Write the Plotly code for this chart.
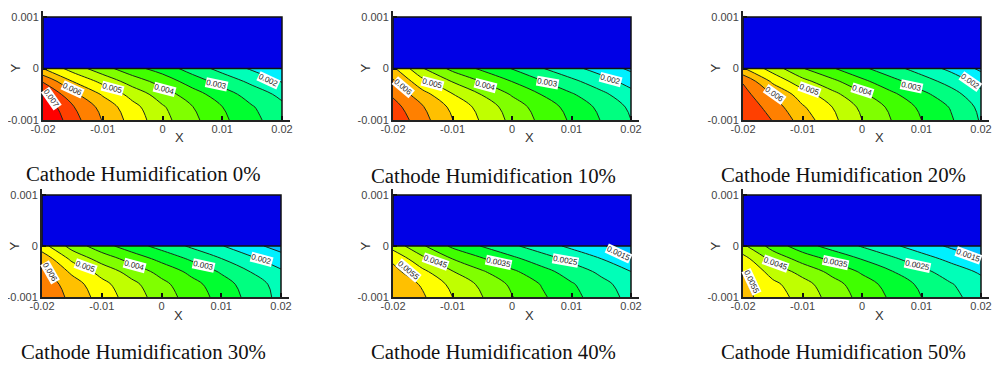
import plotly.graph_objects as go

W, H = 1000, 369
x_grid = [-0.02, -0.015, -0.01, -0.005, 0, 0.005, 0.01, 0.015, 0.02]
y_grid = [-0.001, -0.00075, -0.0005, -0.00025, 0]
x_ticks = [-0.02, -0.01, 0, 0.01, 0.02]
x_tick_labels = ["-0.02", "-0.01", "0", "0.01", "0.02"]
y_ticks = [-0.001, 0, 0.001]
y_tick_labels = ["-0.001", "0", "0.001"]

captions = ["Cathode Humidification 0%", "Cathode Humidification 10%", "Cathode Humidification 20%",
            "Cathode Humidification 30%", "Cathode Humidification 40%", "Cathode Humidification 50%"]

z_0 = [
    [.00760, .00670, .00597, .00530, .00467, .00413, .00361, .00314, .00272],
    [.00740, .00655, .00583, .00517, .00456, .00402, .00351, .00304, .00262],
    [.00710, .00612, .00544, .00481, .00425, .00372, .00323, .00278, .00237],
    [.00645, .00549, .00485, .00427, .00379, .00327, .00280, .00238, .00197],
    [.00550, .00478, .00420, .00367, .00328, .00277, .00233, .00193, .00155],
]
z_10 = [
    [.00690, .00617, .00551, .00493, .00437, .00388, .00343, .00298, .00250],
    [.00670, .00604, .00538, .00481, .00426, .00377, .00333, .00288, .00241],
    [.00642, .00568, .00502, .00447, .00395, .00348, .00305, .00262, .00217],
    [.00608, .00514, .00447, .00397, .00349, .00303, .00262, .00222, .00180],
    [.00560, .00453, .00386, .00340, .00298, .00253, .00215, .00178, .00140],
]
z_20 = [
    [.00695, .00648, .00577, .00513, .00450, .00399, .00350, .00305, .00245],
    [.00690, .00626, .00556, .00500, .00439, .00389, .00340, .00296, .00237],
    [.00670, .00596, .00525, .00466, .00408, .00360, .00313, .00270, .00214],
    [.00645, .00540, .00467, .00413, .00362, .00316, .00273, .00231, .00180],
    [.00555, .00477, .00403, .00355, .00310, .00268, .00228, .00187, .00140],
]
z_30 = [
    [.00645, .00586, .00529, .00476, .00426, .00378, .00333, .00283, .00235],
    [.00635, .00574, .00516, .00464, .00414, .00367, .00323, .00274, .00231],
    [.00612, .00540, .00481, .00430, .00383, .00337, .00294, .00248, .00207],
    [.00585, .00488, .00429, .00380, .00335, .00292, .00251, .00209, .00171],
    [.00520, .00431, .00370, .00323, .00282, .00242, .00203, .00165, .00130],
]
z_40 = [
    [.00590, .00556, .00500, .00451, .00402, .00358, .00315, .00275, .00235],
    [.00585, .00544, .00487, .00439, .00391, .00347, .00305, .00265, .00226],
    [.00565, .00511, .00452, .00405, .00359, .00318, .00277, .00239, .00200],
    [.00540, .00462, .00399, .00354, .00312, .00273, .00236, .00200, .00161],
    [.00480, .00406, .00340, .00297, .00259, .00223, .00189, .00156, .00118],
]
z_50 = [
    [.00565, .00523, .00482, .00431, .00384, .00342, .00300, .00263, .00228],
    [.00558, .00512, .00469, .00419, .00373, .00331, .00290, .00253, .00219],
    [.00550, .00480, .00433, .00386, .00343, .00302, .00263, .00226, .00192],
    [.00520, .00433, .00380, .00337, .00297, .00259, .00221, .00186, .00152],
    [.00460, .00380, .00321, .00281, .00246, .00210, .00175, .00141, .00108],
]
panels_z = [z_0, z_10, z_20, z_30, z_40, z_50]

label_text = [
    ["0.007", "0.006", "0.005", "0.004", "0.003", "0.002"],
    ["0.006", "0.005", "0.004", "0.003", "0.002"],
    ["0.006", "0.005", "0.004", "0.003", "0.002"],
    ["0.006", "0.005", "0.004", "0.003", "0.002"],
    ["0.0055", "0.0045", "0.0035", "0.0025", "0.0015"],
    ["0.0055", "0.0045", "0.0035", "0.0025", "0.0015"],
]
label_x = [
    [-.0186, -.0150, -.0083, .0004, .0091, .0178],
    [-.0182, -.0134, -.0045, .0059, .0165],
    [-.0147, -.0089, 0, .0084, .0182],
    [-.0186, -.0128, -.0045, .0070, .0168],
    [-.0174, -.0129, -.0022, .0090, .0179],
    [-.0185, -.0146, -.0045, .0094, .0179],
]
label_y = [
    [-.00058, -.00041, -.00039, -.00041, -.00032, -.00023],
    [-.00036, -.00029, -.00033, -.00028, -.00022],
    [-.00051, -.00041, -.00042, -.00035, -.00025],
    [-.00051, -.00041, -.00039, -.00039, -.00027],
    [-.00048, -.00031, -.00033, -.00028, -.00015],
    [-.00071, -.00035, -.00033, -.00038, -.00018],
]
label_angle = [
    [55, 25, 15, 15, 12, 25],
    [40, 15, 15, 10, 15],
    [35, 20, 18, 12, 35],
    [60, 20, 15, 12, 15],
    [40, 20, 12, 10, 25],
    [65, 20, 12, 12, 20],
]

band_colors = ["#00c0ff", "#00f0ff", "#00ffb8", "#00ff80", "#00ff30", "#40ff00", "#80ff00",
               "#c0ff00", "#ffff00", "#ffc000", "#ff8000", "#ff4000", "#ff0000"]

X_MIN, X_MAX, Y_MIN, Y_MID, Y_MAX = -0.02, 0.02, -0.001, 0, 0.001
Z_MIN, Z_MAX = 0.001, 0.0075

# the page adds an 8 px body margin round the figure
PAGE = 8
# layout, in page pixels: left, right, top, middle, bottom, caption centre x, caption centre y
geom = [
    (43, 282, 17, 68.5, 120, 143, 173),
    (393, 631, 17, 68.5, 120, 493, 175),
    (743, 981, 17, 68.5, 120, 843, 174),
    (42, 281, 195, 246.5, 297, 143, 351),
    (393, 631, 195, 246.5, 297, 493, 351),
    (743, 981, 195, 246.5, 297, 843, 351),
]

n = len(band_colors)
colorscale = []
for j, c in enumerate(band_colors):
    colorscale += [[j / n, c], [(j + 1) / n, c]]

fig = go.Figure()
ann = []
layout_axes = {}
tick_font = dict(family="Liberation Sans", size=11, color="#444")
title_font = dict(family="Liberation Sans", size=13, color="#333")
for i, (l, r, t, m, b, cx, cy) in enumerate(geom):
    l, r, cx = l - PAGE, r - PAGE, cx - PAGE
    t, m, b, cy = t - PAGE, m - PAGE, b - PAGE, cy - PAGE
    xa = "x" if i == 0 else f"x{i+1}"
    ya = "y" if i == 0 else f"y{i+1}"
    xname = "xaxis" if i == 0 else f"xaxis{i+1}"
    yname = "yaxis" if i == 0 else f"yaxis{i+1}"
    xscale = (X_MAX - X_MIN) / (r - l)
    yscale = (Y_MAX - Y_MIN) / (b - t)
    ext_r, ext_t = 8, 6
    layout_axes[xname] = dict(
        domain=[l / W, (r + ext_r) / W], range=[X_MIN, X_MAX + ext_r * xscale], automargin=False,
        anchor=ya, tickmode="array", tickvals=x_ticks, ticktext=x_tick_labels,
        ticks="inside", ticklen=4, tickwidth=1.5, tickcolor="#111", showgrid=False, zeroline=False,
        showline=True, linecolor="#222", linewidth=2, tickfont=tick_font, ticklabelstandoff=-2,
    )
    layout_axes[yname] = dict(
        domain=[1 - b / H, 1 - max(t - ext_t, 0) / H], range=[Y_MIN, Y_MAX + (t - max(t - ext_t, 0)) * yscale],
        automargin=False,
        anchor=xa, tickmode="array", tickvals=y_ticks, ticktext=y_tick_labels,
        ticks="inside", ticklen=4, tickwidth=1.5, tickcolor="#111", showgrid=False, zeroline=False,
        showline=True, linecolor="#222", linewidth=2, tickfont=tick_font,
    )
    fig.add_trace(go.Contour(
        x=x_grid, y=y_grid, z=panels_z[i], xaxis=xa, yaxis=ya, showscale=False,
        colorscale=colorscale, zauto=False, zmin=Z_MIN, zmax=Z_MAX, autocontour=False,
        contours=dict(start=0.0015, end=0.007, size=0.0005, coloring="fill"),
        line=dict(color="#1a2a1a", width=1, smoothing=1.0), hoverinfo="skip",
    ))
    fig.add_trace(go.Heatmap(
        x=[X_MIN, X_MAX], y=[Y_MID, Y_MAX], z=[[1]], xaxis=xa, yaxis=ya, showscale=False,
        colorscale=[[0, "#0000e6"], [1, "#0000e6"]], hoverinfo="skip",
    ))
    fig.add_trace(go.Scatter(
        x=[X_MIN, X_MAX, X_MAX, X_MIN, X_MIN, X_MAX, X_MAX], y=[Y_MID, Y_MID, Y_MAX, Y_MAX, Y_MID, Y_MID, Y_MIN],
        xaxis=xa, yaxis=ya, mode="lines", line=dict(color="#111", width=1.5),
        showlegend=False, hoverinfo="skip",
    ))
    for txt, lx, ly, ang in zip(label_text[i], label_x[i], label_y[i], label_angle[i]):
        ann.append(dict(
            x=lx, y=ly, xref=xa, yref=ya, text=txt, textangle=ang, showarrow=False,
            font=dict(family="Liberation Sans", size=8, color="#222"),
            bgcolor="white", borderpad=0,
        ))
    ann.append(dict(
        x=cx / W, y=1 - cy / H, xref="paper", yref="paper", text=captions[i], showarrow=False,
        xanchor="center", yanchor="middle",
        font=dict(family="Liberation Serif", size=20.8, color="#111"),
    ))
    ann.append(dict(
        x=(l + 136) / W, y=1 - (b + 18) / H, xref="paper", yref="paper", text="X", showarrow=False,
        xanchor="center", yanchor="middle", font=title_font,
    ))
    ann.append(dict(
        x=(l - 28) / W, y=1 - m / H, xref="paper", yref="paper", text="Y", showarrow=False, textangle=-90,
        xanchor="center", yanchor="middle", font=title_font,
    ))

fig.update_layout(
    width=W, height=H, margin=dict(l=0, r=0, t=0, b=0, pad=0), autosize=False,
    paper_bgcolor="white", plot_bgcolor="white", showlegend=False, annotations=ann, **layout_axes,
)
fig.write_html("out.html")
